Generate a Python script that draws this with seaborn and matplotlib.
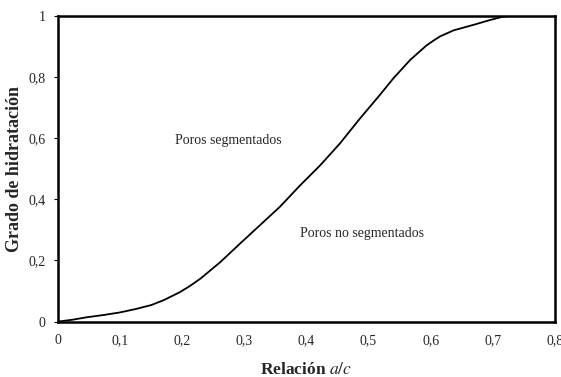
import matplotlib
matplotlib.use("Agg")
import matplotlib.pyplot as plt
import seaborn as sns
import pandas as pd

relacion_ac = [0.0, 0.023, 0.046, 0.075, 0.1, 0.125, 0.15, 0.17, 0.196, 0.212, 0.229, 0.261, 0.293,
               0.325, 0.357, 0.390, 0.422, 0.454, 0.486, 0.518, 0.540, 0.567, 0.593, 0.605, 0.615,
               0.637, 0.669, 0.696, 0.717, 0.73, 0.8]
grado_hidratacion = [0.0, 0.006, 0.014, 0.022, 0.030, 0.041, 0.054, 0.070, 0.096, 0.116, 0.140, 0.194, 0.255,
                     0.315, 0.375, 0.446, 0.511, 0.583, 0.664, 0.741, 0.796, 0.856, 0.903, 0.920, 0.933,
                     0.953, 0.971, 0.987, 0.998, 1.0, 1.0]
x_ticks = [0, 0.1, 0.2, 0.3, 0.4, 0.5, 0.6, 0.7, 0.8]
x_labels = ["0", "0,1", "0,2", "0,3", "0,4", "0,5", "0,6", "0,7", "0,8"]
y_ticks = [0, 0.2, 0.4, 0.6, 0.8, 1.0]
y_labels = ["0", "0,2", "0,4", "0,6", "0,8", "1"]

sns.set_style("white")
plt.rcParams["font.family"] = ["Liberation Serif", "DejaVu Serif"]
plt.rcParams["mathtext.fontset"] = "stix"

df = pd.DataFrame({"x": relacion_ac, "y": grado_hidratacion})

fig = plt.figure(figsize=(5.61, 3.77), dpi=100)
ax = fig.add_axes([0.1034, 0.147, 0.8856, 0.8106])
sns.lineplot(data=df, x="x", y="y", ax=ax, color="black", linewidth=1.3)

ax.set_xlim(0, 0.8)
ax.set_ylim(0, 1)
ax.set_xticks(x_ticks)
ax.set_xticklabels(x_labels)
ax.set_yticks(y_ticks)
ax.set_yticklabels(y_labels)
ax.tick_params(axis="x", direction="in", length=3, width=0.8, labelsize=10, pad=9, color="black")
ax.tick_params(axis="y", direction="out", length=3, width=0.8, labelsize=10, pad=6, color="black", left=True)
for s in ax.spines.values():
    s.set_color("black")
    s.set_linewidth(1.8)

ax.set_xlabel(r"Relación $\mathit{a/c}$", fontsize=12.5, fontweight="bold", labelpad=11)
ax.set_ylabel("Grado de hidratación", fontsize=13, fontweight="bold", labelpad=4)

ax.text(0.274, 0.593, "Poros segmentados", fontsize=10, ha="center", va="center")
ax.text(0.489, 0.289, "Poros no segmentados", fontsize=10, ha="center", va="center")

fig.savefig("out.png", dpi=100)
